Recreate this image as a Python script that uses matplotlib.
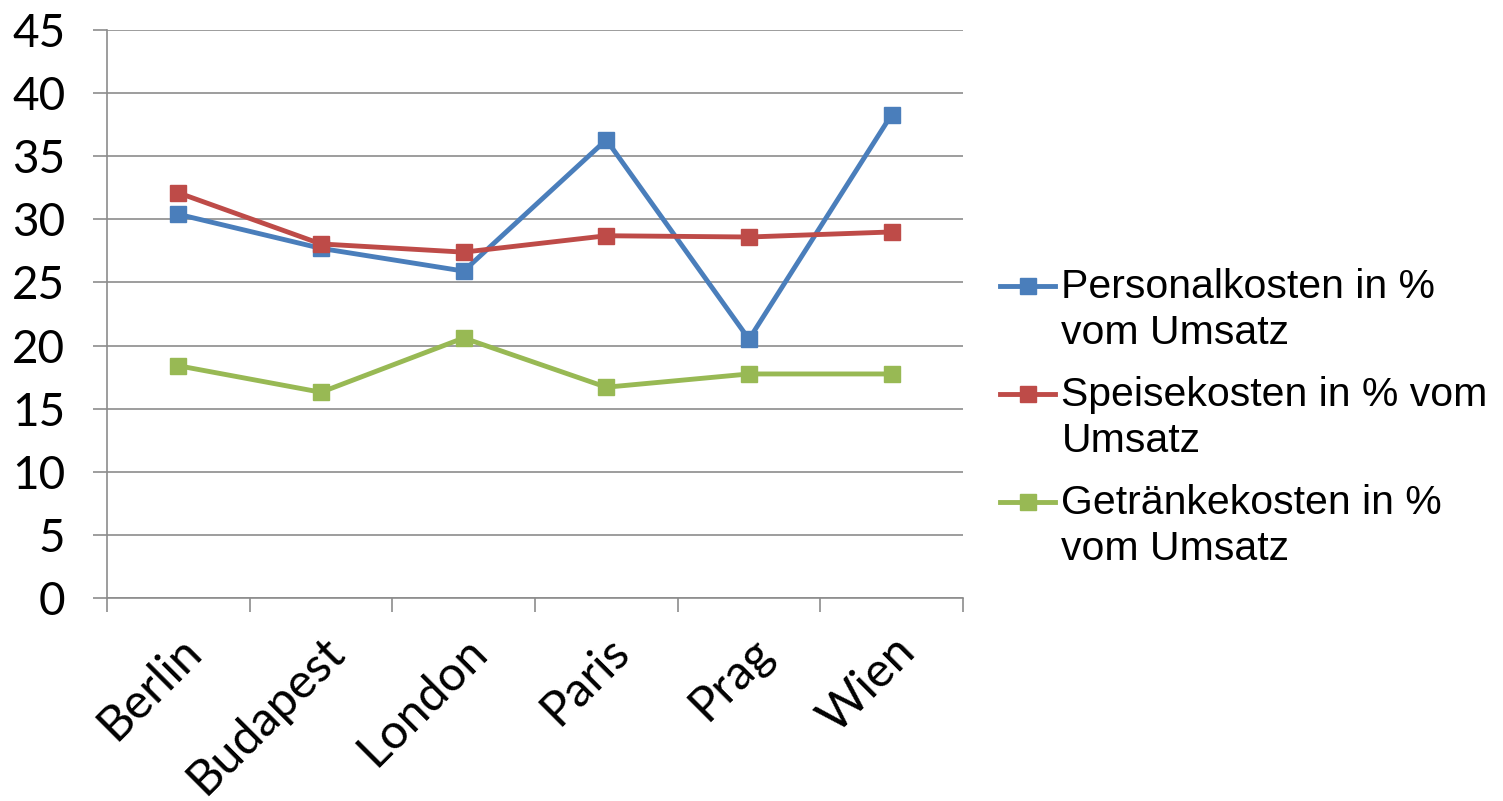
import matplotlib.pyplot as plt
import numpy as np
from matplotlib.legend_handler import HandlerLine2D

staedte = ['Berlin', 'Budapest', 'London', 'Paris', 'Prag', 'Wien']
personal = [30.4, 27.7, 25.9, 36.3, 20.5, 38.3]
speise = [32.1, 28.05, 27.4, 28.7, 28.6, 29.0]
getraenke = [18.4, 16.3, 20.6, 16.7, 17.75, 17.75]
namen = ['Personalkosten in %\nvom Umsatz',
         'Speisekosten in % vom\nUmsatz',
         'Getränkekosten in %\nvom Umsatz']


# Legendenlinie auf Höhe der ersten Textzeile
class ObenHandler(HandlerLine2D):
    def create_artists(self, legend, orig_handle, xdescent, ydescent,
                       width, height, fontsize, trans):
        artists = super().create_artists(legend, orig_handle, xdescent, ydescent,
                                         width, height, fontsize, trans)
        for a in artists:
            a.set_ydata(np.asarray(a.get_ydata()) + 18)
        return artists


fig = plt.figure(figsize=(15.03, 8.01), dpi=100)
ax = fig.add_axes([107 / 1503, 1 - 598 / 801, (963 - 107) / 1503, (598 - 30) / 801])

x = np.arange(len(staedte))
farben = ['#4A7EBB', '#BE4B48', '#98B954']
for werte, farbe, name in zip([personal, speise, getraenke], farben, namen):
    ax.plot(x, werte, color=farbe, lw=3.5, marker='s', ms=11, label=name)

ax.set_xlim(-0.5, len(staedte) - 0.5)
ax.set_ylim(0, 45)
ax.set_yticks(range(0, 46, 5))
ax.grid(axis='y', color='#8c8c8c', lw=1.2)
ax.set_axisbelow(True)

# Striche zwischen den Kategorien, Beschriftung in der Mitte
ax.set_xticks(np.arange(-0.5, len(staedte)))
ax.set_xticklabels([])
ax.set_xticks(x, minor=True)
ax.set_xticklabels(staedte, minor=True, rotation=45, ha='right',
                   rotation_mode='anchor', fontsize=35, family='Lato')
ax.tick_params(axis='x', which='major', length=10, color='#8c8c8c', width=1.2)
ax.tick_params(axis='x', which='minor', length=0, pad=22)
ax.tick_params(axis='y', length=10, color='#8c8c8c', width=1.2, pad=20,
               labelsize=33, labelfontfamily='Lato')

for s in ['top', 'right']:
    ax.spines[s].set_visible(False)
for s in ['left', 'bottom']:
    ax.spines[s].set_color('#8c8c8c')
    ax.spines[s].set_linewidth(1.2)

leg = fig.legend(loc='center left', bbox_to_anchor=(1000 / 1503, 1 - 418 / 801),
                 frameon=False, prop={'family': 'Liberation Sans', 'size': 29.5},
                 handlelength=1.35, handletextpad=0.15, labelspacing=0.6,
                 borderaxespad=0, borderpad=0,
                 handler_map={plt.Line2D: ObenHandler()})
for t in leg.get_texts():
    t.set_linespacing(1.25)

fig.savefig('out.png', dpi=100)
